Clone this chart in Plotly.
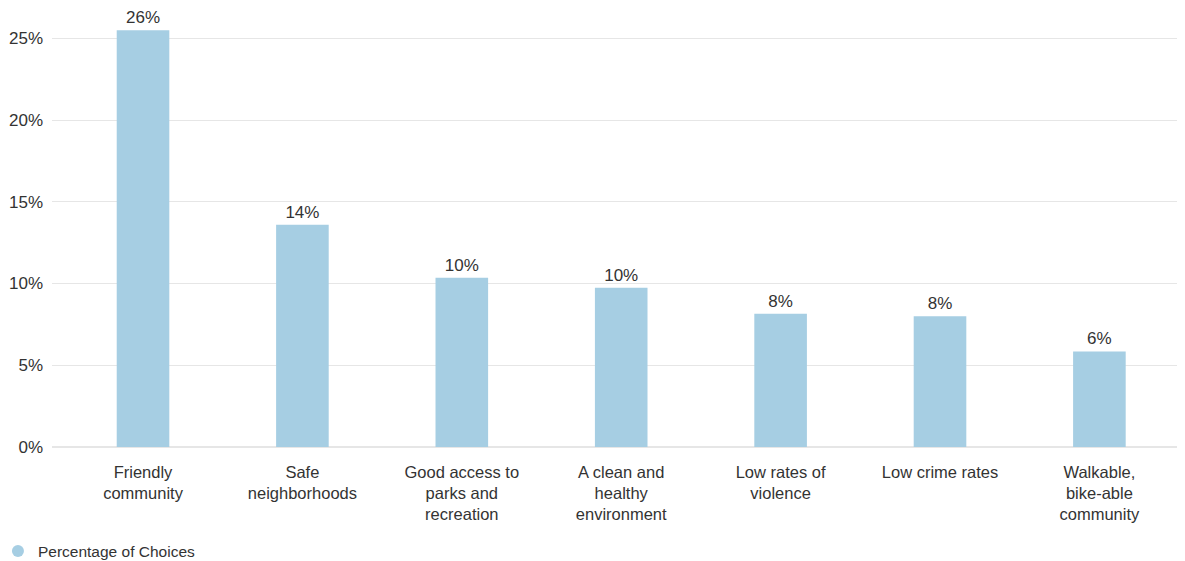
import plotly.graph_objects as go

categories = ["Friendly<br>community", "Safe<br>neighborhoods", "Good access to<br>parks and<br>recreation",
              "A clean and<br>healthy<br>environment", "Low rates of<br>violence", "Low crime rates",
              "Walkable,<br>bike-able<br>community"]
values = [25.5, 13.6, 10.35, 9.75, 8.15, 8.0, 5.85]
value_labels = ["26%", "14%", "10%", "10%", "8%", "8%", "6%"]
series_name = "Percentage of Choices"
y_ticks = [0, 5, 10, 15, 20, 25]
y_tick_labels = ["0%", "5%", "10%", "15%", "20%", "25%"]

bar_color = "#a6cee3"
font_family = "Liberation Sans, Arial, sans-serif"

fig = go.Figure()
fig.add_trace(go.Bar(
    x=list(range(len(categories))), y=values, text=value_labels, textposition="outside",
    texttemplate="%{text}", cliponaxis=False, width=0.33,
    marker=dict(color=bar_color, line=dict(width=0)),
    textfont=dict(size=17, color="#333333", family=font_family),
    showlegend=False, name=series_name,
))
fig.add_trace(go.Scatter(
    x=[None], y=[None], mode="markers", name=series_name,
    marker=dict(color=bar_color, size=12, symbol="circle"),
    showlegend=True,
))

fig.update_layout(
    width=1185, height=561,
    margin=dict(l=44, r=8, t=14, b=122, autoexpand=False),
    plot_bgcolor="white", paper_bgcolor="white",
    font=dict(family=font_family, size=17, color="#333333"),
    xaxis=dict(range=[-0.571, 6.537], tickvals=list(range(len(categories))), ticktext=categories,
               showgrid=False, ticks="", showline=False, zeroline=False, automargin=False,
               tickfont=dict(size=16.5, color="#333333"), ticklabelstandoff=13),
    yaxis=dict(range=[0, 26], tickvals=y_ticks, ticktext=y_tick_labels, automargin=False,
               showgrid=True, gridcolor="#e6e6e6", gridwidth=1, zeroline=True,
               zerolinecolor="#e6e6e6", ticks="", tickfont=dict(size=17, color="#333333"),
               ticklabelstandoff=8),
    legend=dict(orientation="h", x=-0.0477, y=0.001, xref="paper", yref="container",
                xanchor="left", yanchor="bottom", font=dict(size=15.5, color="#333333"),
                itemwidth=30),
)

fig.write_html("out.html")
